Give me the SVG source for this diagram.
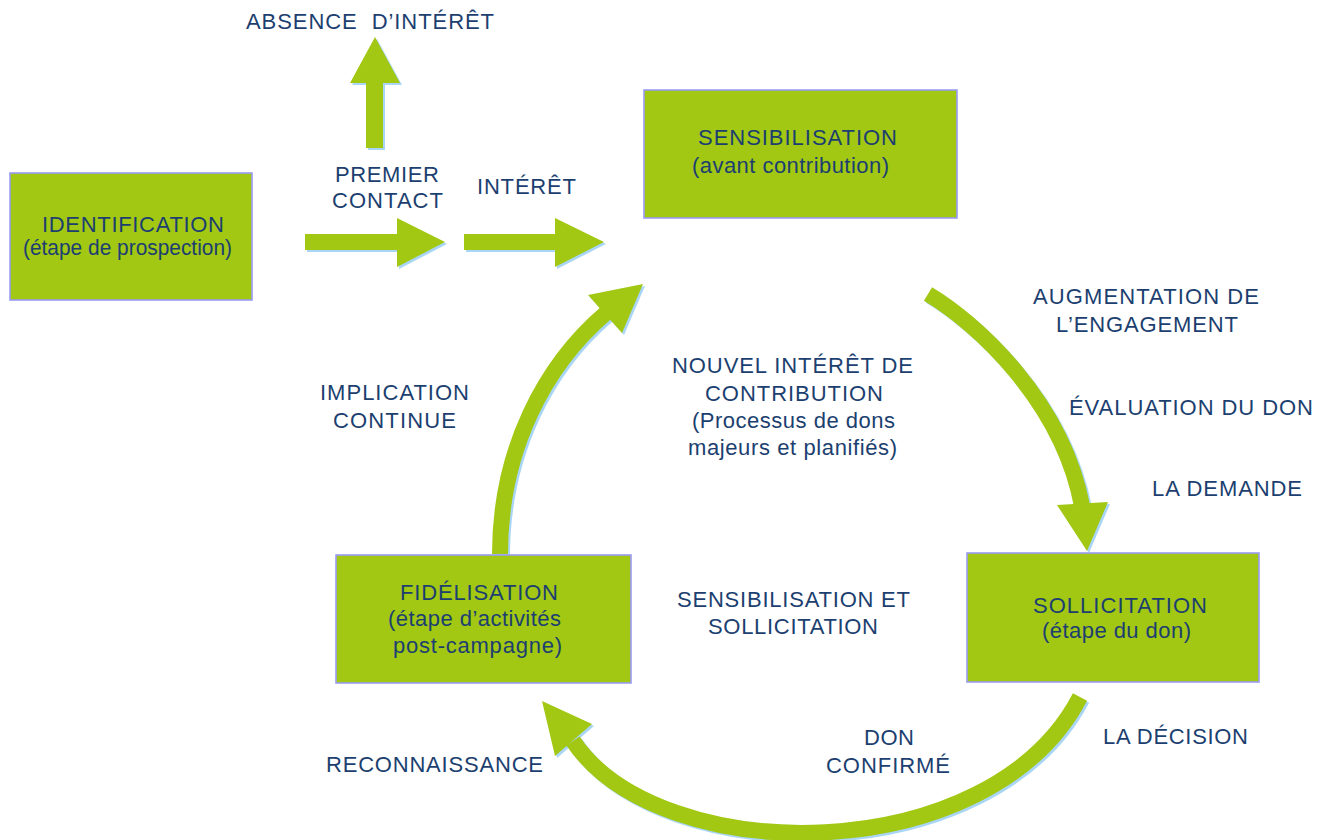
<svg xmlns="http://www.w3.org/2000/svg" width="1322" height="840" viewBox="0 0 1322 840">
<style>
.box{fill:#a2c814;stroke:#9a9cf2;stroke-width:1.6}
.t{font-family:"Liberation Sans",Arial,Helvetica,sans-serif;font-size:22px;fill:#1c3f70}
.arw{fill:#a2c814}
.shd{fill:#a9d6f6}
.cur{fill:none;stroke:#a2c814;stroke-width:16}
.curs{fill:none;stroke:#a9d6f6;stroke-width:16}
</style>
<rect width="1322" height="840" fill="#ffffff"/>

<g id="connectors">
  <g transform="translate(2,2)">
    <polygon class="shd" points="366,148 383,148 383,83 400,83 375,37 350,83 366,83"/>
    <polygon class="shd" points="305,234 397,234 397,218 445,242 397,267 397,250 305,250"/>
    <polygon class="shd" points="464,234 555,234 555,218 604,242 555,267 555,250 464,250"/>
    <path class="curs" d="M928,294 C975,322 1062,400 1082,506"/>
    <polygon class="shd" points="1057,505 1108,502 1087,551"/>
    <path class="curs" d="M500,554 C500,450 545,365 606,313"/>
    <polygon class="shd" points="588,295 622,333 643,284"/>
    <path class="curs" d="M1080,697 C990,870 660,870 573,741"/>
    <polygon class="shd" points="592,724 555,756 542,701"/>
  </g>
  <polygon class="arw" points="366,148 383,148 383,83 400,83 375,37 350,83 366,83"/>
  <polygon class="arw" points="305,234 397,234 397,218 445,242 397,267 397,250 305,250"/>
  <polygon class="arw" points="464,234 555,234 555,218 604,242 555,267 555,250 464,250"/>
  <path class="cur" d="M928,294 C975,322 1062,400 1082,506"/>
  <polygon class="arw" points="1057,505 1108,502 1087,551"/>
  <path class="cur" d="M500,554 C500,450 545,365 606,313"/>
  <polygon class="arw" points="588,295 622,333 643,284"/>
  <path class="cur" d="M1080,697 C990,870 660,870 573,741"/>
  <polygon class="arw" points="592,724 555,756 542,701"/>
</g>

<g id="identification">
  <rect class="box" x="10" y="173" width="242" height="127"/>
  <text class="t" x="42" y="232" textLength="182" lengthAdjust="spacing">IDENTIFICATION</text>
  <text class="t" x="23" y="255" textLength="209" lengthAdjust="spacingAndGlyphs">(étape de prospection)</text>
</g>

<g id="sensibilisation">
  <rect class="box" x="644" y="90" width="313" height="128"/>
  <text class="t" x="698" y="145" textLength="199" lengthAdjust="spacing">SENSIBILISATION</text>
  <text class="t" x="692" y="173" textLength="197" lengthAdjust="spacing">(avant contribution)</text>
</g>

<g id="sollicitation">
  <rect class="box" x="967" y="553" width="292" height="129"/>
  <text class="t" x="1033" y="613" textLength="174" lengthAdjust="spacing">SOLLICITATION</text>
  <text class="t" x="1042" y="638" textLength="149" lengthAdjust="spacing">(étape du don)</text>
</g>

<g id="fidelisation">
  <rect class="box" x="336" y="555" width="295" height="128"/>
  <text class="t" x="400" y="600" textLength="158" lengthAdjust="spacing">FIDÉLISATION</text>
  <text class="t" x="388" y="626" textLength="173" lengthAdjust="spacing">(étape d’activités</text>
  <text class="t" x="393" y="653" textLength="169" lengthAdjust="spacing">post-campagne)</text>
</g>

<g id="labels">
  <text class="t" x="246" y="29" textLength="248" lengthAdjust="spacing">ABSENCE&#160; D’INTÉRÊT</text>
  <text class="t" x="335" y="182" textLength="104" lengthAdjust="spacing">PREMIER</text>
  <text class="t" x="332" y="208" textLength="111" lengthAdjust="spacing">CONTACT</text>
  <text class="t" x="477" y="194" textLength="99" lengthAdjust="spacing">INTÉRÊT</text>
  <text class="t" x="1033" y="304" textLength="226" lengthAdjust="spacing">AUGMENTATION DE</text>
  <text class="t" x="1056" y="332" textLength="182" lengthAdjust="spacing">L’ENGAGEMENT</text>
  <text class="t" x="1069" y="415" textLength="244" lengthAdjust="spacing">ÉVALUATION DU DON</text>
  <text class="t" x="1152" y="496" textLength="150" lengthAdjust="spacing">LA DEMANDE</text>
  <text class="t" x="672" y="373" textLength="241" lengthAdjust="spacing">NOUVEL INTÉRÊT DE</text>
  <text class="t" x="705" y="401" textLength="178" lengthAdjust="spacing">CONTRIBUTION</text>
  <text class="t" x="692" y="428" textLength="203" lengthAdjust="spacing">(Processus de dons</text>
  <text class="t" x="688" y="455" textLength="209" lengthAdjust="spacing">majeurs et planifiés)</text>
  <text class="t" x="320" y="400" textLength="149" lengthAdjust="spacing">IMPLICATION</text>
  <text class="t" x="333" y="428" textLength="123" lengthAdjust="spacing">CONTINUE</text>
  <text class="t" x="677" y="607" textLength="233" lengthAdjust="spacing">SENSIBILISATION ET</text>
  <text class="t" x="708" y="634" textLength="170" lengthAdjust="spacing">SOLLICITATION</text>
  <text class="t" x="1103" y="744" textLength="145" lengthAdjust="spacing">LA DÉCISION</text>
  <text class="t" x="864" y="745" textLength="50" lengthAdjust="spacing">DON</text>
  <text class="t" x="826" y="773" textLength="124" lengthAdjust="spacing">CONFIRMÉ</text>
  <text class="t" x="326" y="772" textLength="217" lengthAdjust="spacing">RECONNAISSANCE</text>
</g>
</svg>
